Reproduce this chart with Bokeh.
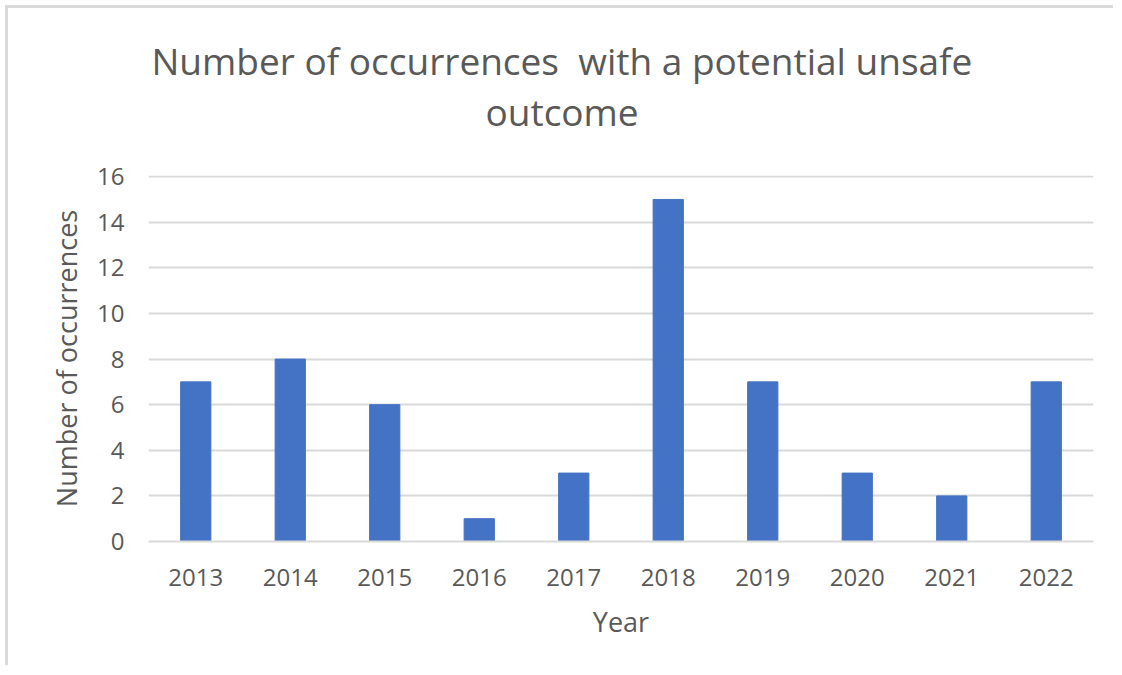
from bokeh.plotting import figure
from bokeh.models import Title, SingleIntervalTicker, Range1d
from bokeh.embed import file_html
from bokeh.resources import INLINE

years = ["2013", "2014", "2015", "2016", "2017", "2018", "2019", "2020", "2021", "2022"]
occurrences = [7, 8, 6, 1, 3, 15, 7, 3, 2, 7]
title_lines = ["Number of occurrences\u00a0 with a potential unsafe", "outcome"]

FONT = "Open Sans"
GREY = "#595959"

W, H = 1108, 660
p = figure(x_range=years, y_range=Range1d(0, 16.05), width=W, height=H,
           output_backend="svg", toolbar_location=None,
           title=title_lines[0],
           min_border_left=140, min_border_right=W - 140 - 945,
           min_border_top=167, min_border_bottom=H - 167 - 366)
p.styles = {"margin-left": "5px", "margin-top": "5px",
            "border-top": "3px solid #dadada", "border-left": "3px solid #dadada",
            "border-right": "0px", "border-bottom": "0px"}

p.title.text_font = FONT
p.title.text_font_size = "37px"
p.title.text_color = GREY
p.title.text_font_style = "normal"
p.title.align = "left"
p.title.offset = 3
p.title.standoff = -82

p.add_layout(Title(text=title_lines[1], text_font=FONT, text_font_size="37px",
                   text_color=GREY, text_font_style="normal", align="left",
                   offset=337, standoff=78), "above")

p.vbar(x=years, top=occurrences, width=0.32, color="#4472C4")

p.outline_line_color = None
p.xgrid.grid_line_color = None
p.ygrid.grid_line_color = "#d9d9d9"
p.ygrid.grid_line_width = 2
p.yaxis.ticker = SingleIntervalTicker(interval=2)
p.yaxis.axis_line_color = None
p.yaxis.major_tick_line_color = None
p.yaxis.minor_tick_line_color = None
p.xaxis.axis_line_color = "#d9d9d9"
p.xaxis.axis_line_width = 2
p.xaxis.major_tick_line_color = None
p.xaxis.minor_tick_line_color = None

for ax in (p.xaxis, p.yaxis):
    ax.major_label_text_font = FONT
    ax.major_label_text_font_size = "24px"
    ax.major_label_text_color = GREY
    ax.axis_label_text_font = FONT
    ax.axis_label_text_font_size = "27px"
    ax.axis_label_text_color = GREY
    ax.axis_label_text_font_style = "normal"

p.xaxis.major_label_standoff = 21
p.yaxis.major_label_standoff = 18
p.xaxis.axis_label = "Year"
p.yaxis.axis_label = "Number of occurrences"
p.xaxis.axis_label_standoff = 14
p.yaxis.axis_label_standoff = 9

open("out.html", "w").write(file_html(p, INLINE))
